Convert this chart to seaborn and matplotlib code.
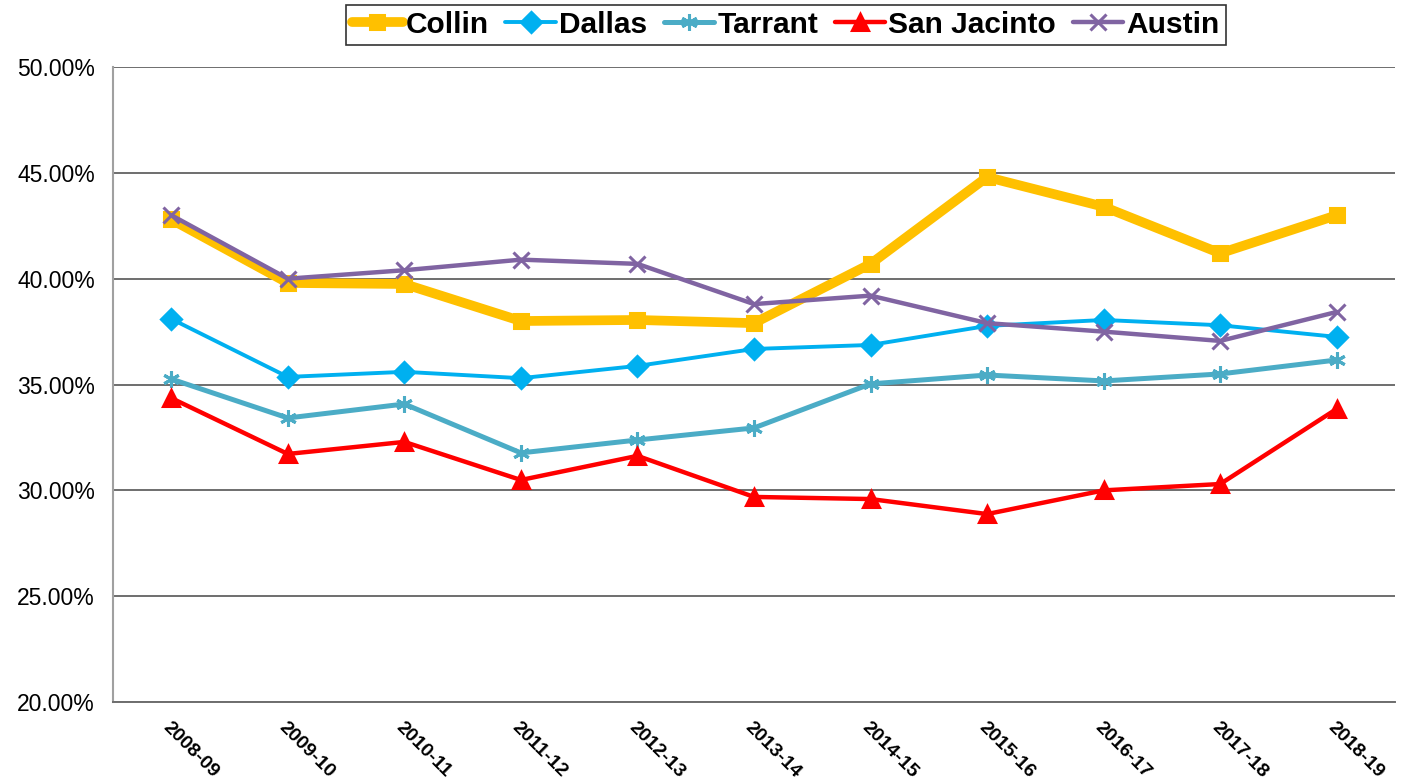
import pandas as pd
import seaborn as sns
import matplotlib.pyplot as plt
from matplotlib.ticker import PercentFormatter

years = ['2008-09', '2009-10', '2010-11', '2011-12', '2012-13', '2013-14',
         '2014-15', '2015-16', '2016-17', '2017-18', '2018-19']
collin = [42.8, 39.8, 39.75, 38.0, 38.05, 37.9, 40.7, 44.8, 43.4, 41.2, 43.0]
dallas = [38.1, 35.36, 35.6, 35.3, 35.88, 36.68, 36.87, 37.77, 38.05, 37.8, 37.25]
tarrant = [35.26, 33.42, 34.08, 31.77, 32.38, 32.95, 35.03, 35.45, 35.17, 35.5, 36.16]
san_jacinto = [34.36, 31.72, 32.29, 30.49, 31.63, 29.69, 29.59, 28.88, 30.0, 30.3, 33.85]
austin = [43.0, 40.0, 40.4, 40.9, 40.7, 38.8, 39.2, 37.9, 37.5, 37.06, 38.43]

series = {'Collin': collin, 'Dallas': dallas, 'Tarrant': tarrant,
          'San Jacinto': san_jacinto, 'Austin': austin}
rows = [(y, name, v) for name, vals in series.items() for y, v in zip(years, vals)]
data = pd.DataFrame(rows, columns=['Year', 'County', 'Rate'])

sns.set_style('white')
plt.rcParams['font.family'] = ['Liberation Sans', 'DejaVu Sans']
plt.rcParams['text.color'] = 'black'
plt.rcParams['xtick.color'] = 'black'
plt.rcParams['ytick.color'] = 'black'

colors = {'Collin': '#FFC000', 'Dallas': '#00B0F0', 'Tarrant': '#4BACC6',
          'San Jacinto': '#FF0000', 'Austin': '#8064A2'}
markers = {'Collin': 's', 'Dallas': 'D', 'Tarrant': (6, 2, 0),
           'San Jacinto': '^', 'Austin': 'x'}
widths = {'Collin': 7, 'Dallas': 2.8, 'Tarrant': 3.6, 'San Jacinto': 3.2, 'Austin': 3.2}
msizes = {'Collin': 10, 'Dallas': 10, 'Tarrant': 12, 'San Jacinto': 11, 'Austin': 11}

fig = plt.figure(figsize=(14.07, 7.83), dpi=100)
ax = fig.add_axes([0.0803, 0.1034, 0.9112, 0.811])

handles = []
for name in series:
    sub = data[data['County'] == name]
    sns.lineplot(x='Year', y='Rate', data=sub, ax=ax, color=colors[name],
                 linewidth=widths[name], marker=markers[name], markersize=msizes[name],
                 markeredgecolor=colors[name], markeredgewidth=2.2, sort=False, label=name,
                 legend=False)
    handles.append(ax.lines[-1])

ax.set_xlim(-0.5, 10.5)
ax.set_ylim(20, 50)
ax.set_yticks([20, 25, 30, 35, 40, 45, 50])
ax.yaxis.set_major_formatter(PercentFormatter(decimals=2))
ax.set_xlabel('')
ax.set_ylabel('')
ax.grid(axis='y', color='#6e6e6e', linewidth=1.4)
ax.grid(axis='x', visible=False)
for s in ['top', 'right']:
    ax.spines[s].set_visible(False)
ax.spines['left'].set_color('#a0a0a0')
ax.spines['left'].set_linewidth(1.5)
ax.spines['bottom'].set_color('#6e6e6e')
ax.spines['bottom'].set_linewidth(1.4)
ax.tick_params(axis='y', labelsize=16.5, length=0, pad=13)
ax.tick_params(axis='x', length=0, pad=12)
plt.setp(ax.get_xticklabels(), rotation=-45, ha='left', va='top',
         rotation_mode='anchor', fontsize=14, fontweight='bold')

leg = fig.legend(handles=handles, labels=list(series.keys()), loc='upper center',
                 bbox_to_anchor=(0.5585, 1.013), ncol=5, frameon=True, fancybox=False,
                 edgecolor='black', handlelength=1.7, handletextpad=0.1,
                 columnspacing=0.55, borderpad=0.2,
                 prop={'size': 21.5, 'weight': 'bold'})
leg.get_frame().set_linewidth(1.2)

plt.savefig('out.png', dpi=100)
